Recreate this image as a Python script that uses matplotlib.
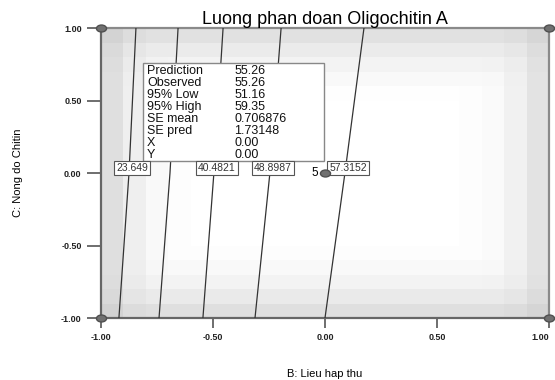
import numpy as np
import matplotlib
matplotlib.use('Agg')
from matplotlib import pyplot as plt
from matplotlib.patches import Rectangle
from matplotlib.markers import MarkerStyle
from matplotlib.transforms import Affine2D

plt.rcParams['font.family'] = ['Liberation Sans', 'DejaVu Sans']

# contour levels and where each line crosses top (y=1), middle (y=0), bottom (y=-1)
levels = [23.649, 32.0656, 40.4821, 48.8987, 57.3152]
level_labels = ['23.649', None, '40.4821', '48.8987', '57.3152']
x_top = [-0.844, -0.656, -0.455, -0.196, 0.174]
x_mid = [-0.875, -0.692, -0.496, -0.246, 0.089]
x_bottom = [-0.920, -0.741, -0.545, -0.3125, 0.0]
line_y = [1.0, 0.0, -1.0]

# background shading (standard error), darkness per column (left->right) and row (bottom->top)
col_dark = [32, 16, 6, 2, 0, 0, 0, 0, 0, 0, 0, 0, 0, 0, 0, 0, 2, 5, 14, 28]
row_dark = [32, 21, 12, 6, 2, 0, 0, 0, 0, 0, 0, 0, 0, 0, 0, 1, 6, 12, 20, 30]

# design points
design_x = [-1, 1, -1, 1]
design_y = [1, 1, -1, -1]
center_pt = (0.0, 0.0)
center_count = '5'

# prediction box
pred_names = ['Prediction', 'Observed', '95% Low', '95% High', 'SE mean', 'SE pred', 'X', 'Y']
pred_values = ['55.26', '55.26', '51.16', '59.35', '0.706876', '1.73148', '0.00', '0.00']

ticks = [-1.0, -0.5, 0.0, 0.5, 1.0]
tick_labels = ['-1.00', '-0.50', '0.00', '0.50', '1.00']

fig = plt.figure(figsize=(5.55, 3.8), dpi=100)
ax = fig.add_axes([101/555, 1 - 318/380, 448/555, 290/380])

# shading grid
edges = np.linspace(-1, 1, 21)
dark = np.hypot(np.array(col_dark)[None, :], np.array(row_dark)[:, None])
shade = 1 - dark / 255.0
ax.pcolormesh(edges, edges, shade, cmap='gray', vmin=0, vmax=1, shading='flat',
              edgecolors='none', antialiased=False)

# contour lines
for i, lev in enumerate(levels):
    xs = [x_top[i], x_mid[i], x_bottom[i]]
    ax.plot(xs, line_y, color='#333333', lw=0.9, zorder=3)

# contour labels, placed on the lines just above y=0
lab_y = 0.037
for i, lab in enumerate(level_labels):
    if lab is None:
        continue
    xl = np.interp(lab_y, [0.0, 1.0], [x_mid[i], x_top[i]])
    ax.text(xl + 0.012, lab_y, lab, ha='center', va='center', fontsize=7.5, color='#333333', zorder=6,
            bbox=dict(boxstyle='square,pad=0.2', fc='white', ec='#555555', lw=0.8))

# prediction box
ax.add_patch(Rectangle((-0.8125, 0.083), 0.8085, 0.676, fc='white', ec='#888888', lw=1.0, zorder=5))
for i, (nm, val) in enumerate(zip(pred_names, pred_values)):
    yy = 0.703 - i * 0.0828
    ax.text(-0.795, yy, nm, ha='left', va='center', fontsize=9, color='#111111', zorder=6)
    ax.text(-0.406, yy, val, ha='left', va='center', fontsize=9, color='#111111', zorder=6)

# design points
oval = MarkerStyle('o', transform=Affine2D().scale(1.45, 1.0))
ax.plot(design_x, design_y, linestyle='none', marker=oval, ms=5, color='#707070', mec='#505050',
        clip_on=False, zorder=7)
ax.plot([center_pt[0]], [center_pt[1]], linestyle='none', marker=oval, ms=5, color='#707070',
        mec='#505050', zorder=7)
ax.text(center_pt[0] - 0.03, center_pt[1], center_count, ha='right', va='center', fontsize=8.5, zorder=7)

ax.set_xlim(-1, 1)
ax.set_ylim(-1, 1)
ax.set_xticks(ticks)
ax.set_xticklabels(tick_labels)
ax.set_yticks(ticks)
ax.set_yticklabels(tick_labels)
ax.tick_params(axis='x', direction='out', length=7, width=1.2, colors='#555555', labelsize=6.5, pad=4)
ax.tick_params(axis='y', direction='out', length=10, width=1.2, colors='#555555', labelsize=6.5, pad=4)
for lab in ax.get_xticklabels() + ax.get_yticklabels():
    lab.set_color('#222222')
    lab.set_fontweight('bold')
# keep the last x label inside the picture
ax.get_xticklabels()[-1].set_horizontalalignment('right')

for side in ['left', 'bottom']:
    ax.spines[side].set_color('#666666')
    ax.spines[side].set_linewidth(1.6)
for side in ['top', 'right']:
    ax.spines[side].set_color('#8a8a8a')
    ax.spines[side].set_linewidth(1.6)

ax.set_title('Luong phan doan Oligochitin A', fontsize=13, pad=3)
ax.set_xlabel('B: Lieu hap thu', fontsize=8, labelpad=19)
ax.set_ylabel('C: Nong do Chitin', fontsize=8, labelpad=27)

fig.savefig('out.png', dpi=100)
